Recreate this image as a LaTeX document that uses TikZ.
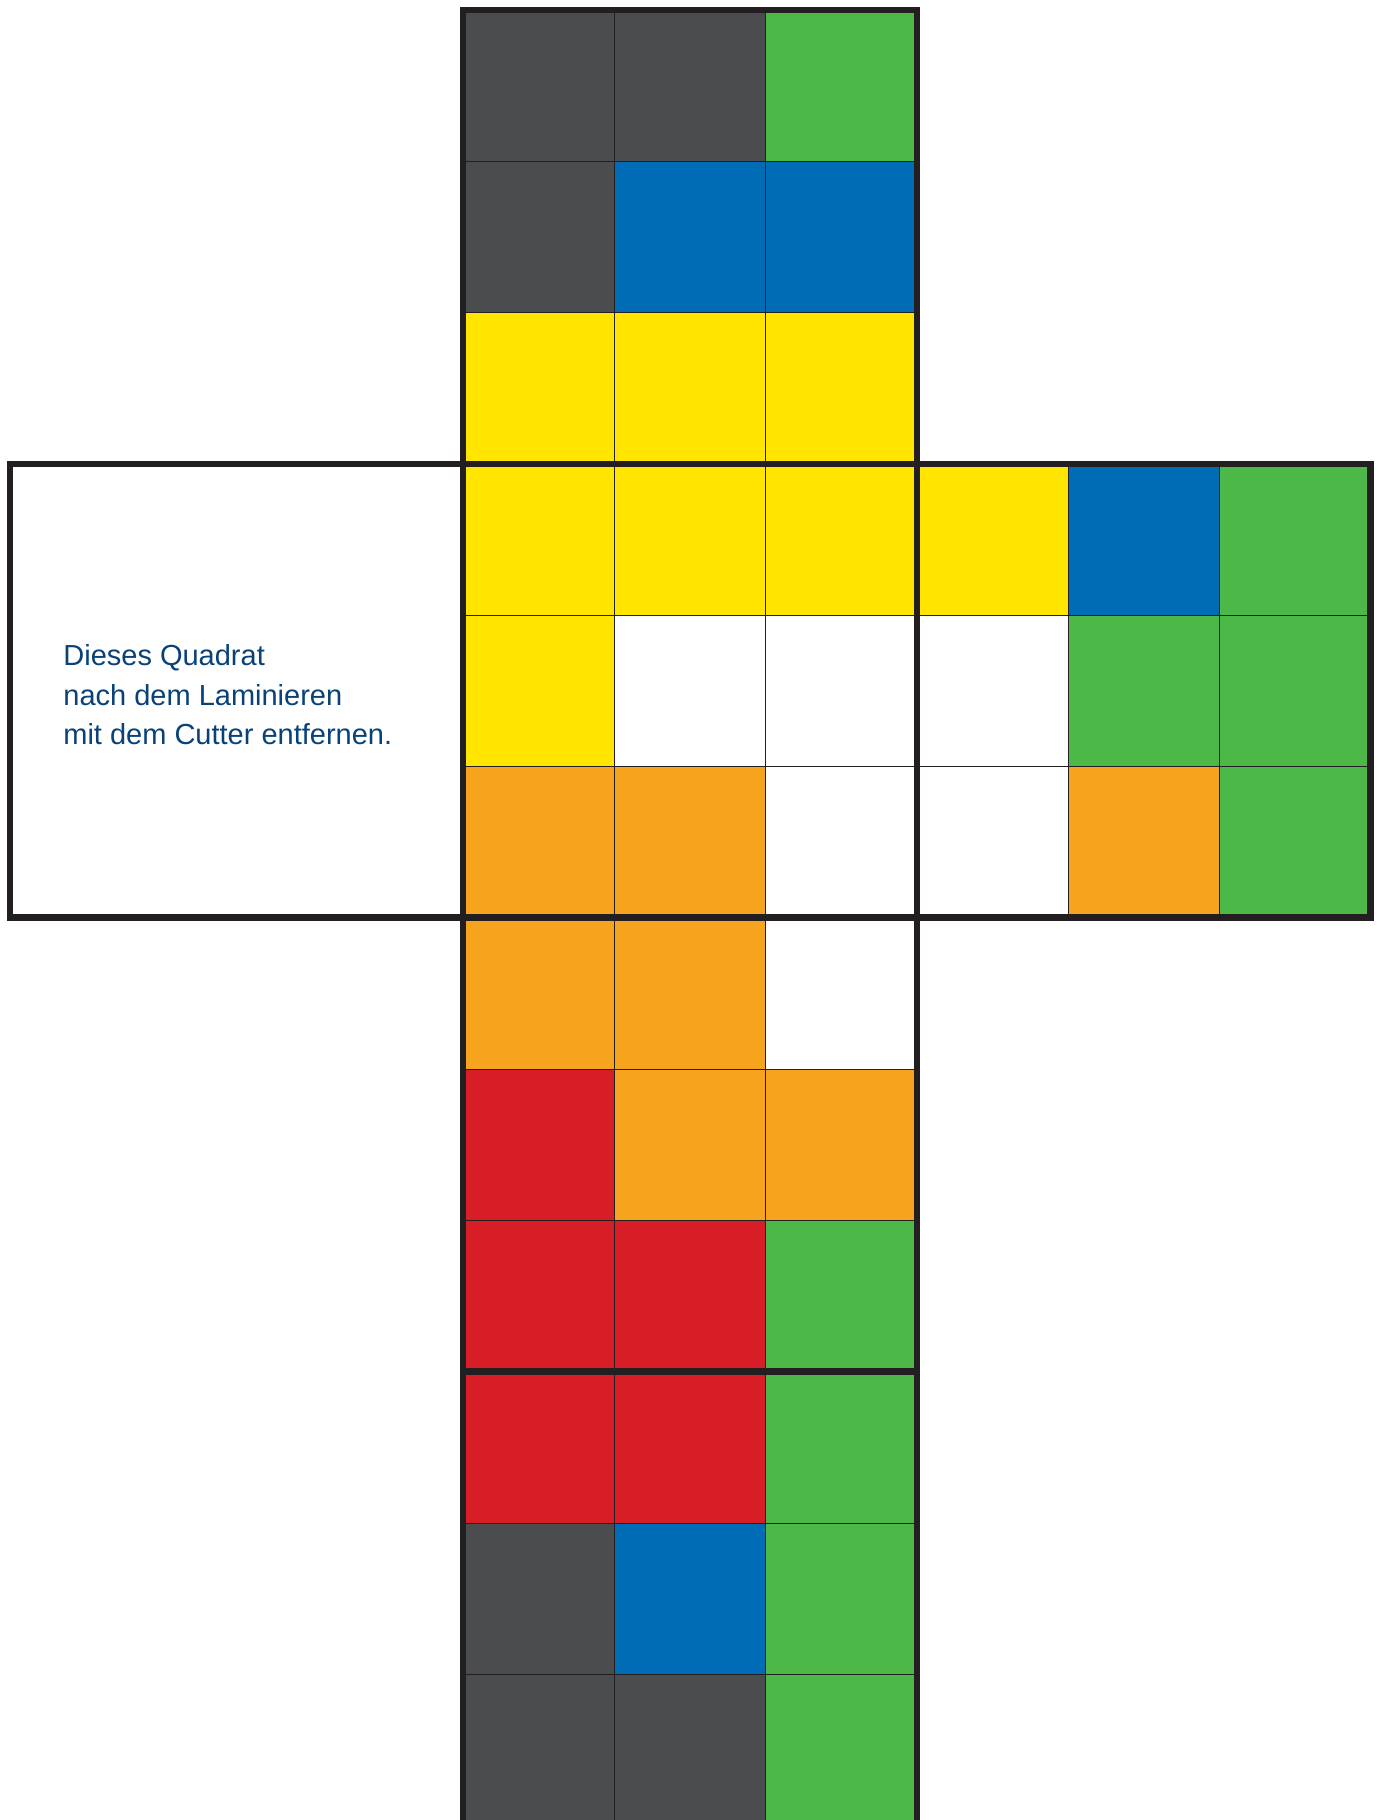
\documentclass[tikz,border=0pt]{standalone}
\usepackage{fontspec}
\setmainfont{Liberation Sans}
\definecolor{Kg}{HTML}{4B4C4E}
\definecolor{Kn}{HTML}{4CB848}
\definecolor{Kb}{HTML}{006CB6}
\definecolor{Ky}{HTML}{FFE500}
\definecolor{Ko}{HTML}{F6A41E}
\definecolor{Kr}{HTML}{D71E26}
\definecolor{Kw}{HTML}{FFFFFF}
\definecolor{Kline}{HTML}{231F20}
\definecolor{Ktext}{HTML}{084278}
\tikzset{
  thinline/.style={draw=Kline, line width=0.5pt},
  thickline/.style={draw=Kline, line width=3.3pt},
  note/.style={anchor=base west, inner sep=0pt, text=Ktext, font=\fontsize{14.5pt}{19.6pt}\selectfont},
}
\begin{document}
\begin{tikzpicture}[x=0.5pt,y=-0.5pt]
\useasboundingbox (0,0) rectangle (1381,1820);
\clip (0,0) rectangle (1381,1820);
\fill[white] (0,0) rectangle (1381,1820);
% column cells
\foreach \r/\row in {0/{Kg,Kg,Kn},1/{Kg,Kb,Kb},2/{Ky,Ky,Ky},3/{Ky,Ky,Ky},4/{Ky,Kw,Kw},5/{Ko,Ko,Kw},6/{Ko,Ko,Kw},7/{Kr,Ko,Ko},8/{Kr,Kr,Kn},9/{Kr,Kr,Kn},10/{Kg,Kb,Kn},11/{Kg,Kg,Kn}}{
  \foreach \c [count=\i from 0] in \row {
    \fill[\c] (463+\i*151.33,10+\r*151.33) rectangle ++(151.33,151.33);
  }
}
% right face cells
\foreach \r/\row in {3/{Ky,Kb,Kn},4/{Kw,Kn,Kn},5/{Kw,Ko,Kn}}{
  \foreach \c [count=\i from 3] in \row {
    \fill[\c] (463+\i*151.33,10+\r*151.33) rectangle ++(151.33,151.33);
  }
}
% thin grid lines: column
\foreach \i in {1,2}{
  \draw[thinline] (463+\i*151.33,10) -- (463+\i*151.33,1830);
}
\foreach \r in {1,...,11}{
  \draw[thinline] (463,10+\r*151.33) -- (917,10+\r*151.33);
}
% thin grid lines: right face
\foreach \i in {4,5}{
  \draw[thinline] (463+\i*151.33,464) -- (463+\i*151.33,917.5);
}
\foreach \r in {4,5}{
  \draw[thinline] (917,10+\r*151.33) -- (1370.7,10+\r*151.33);
}
% thick outlines
\draw[thickline] (463,1840) -- (463,10) -- (917,10) -- (917,1840);
\draw[thickline] (10,464) rectangle (1370.7,917.5);
\draw[thickline] (463,1371.7) -- (917,1371.7);
% text
\node[note] (t1) at (63,665.7) {Dieses Quadrat};
\node[note] (t2) at (63,705) {nach dem Laminieren};
\node[note] (t3) at (63,744.3) {mit dem Cutter entfernen.};
\end{tikzpicture}
\end{document}
